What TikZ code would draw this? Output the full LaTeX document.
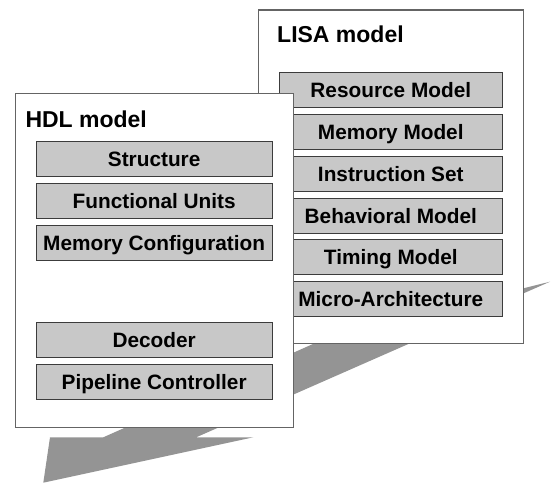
\documentclass[tikz,border=0pt]{standalone}
\usepackage{fontspec}
\setmainfont{Liberation Sans}
\usetikzlibrary{positioning}
\definecolor{arrowgray}{RGB}{148,148,148}
\definecolor{partgray}{RGB}{200,200,200}
\definecolor{partline}{RGB}{60,60,60}
\definecolor{modelline}{RGB}{100,100,100}

\begin{document}
\begin{tikzpicture}[x=1pt,y=-1pt,
    model/.style={draw=modelline, line width=1.3pt, fill=white, inner sep=0pt},
    modeltitle/.style={anchor=base west, inner sep=0pt, font=\fontsize{23}{26}\selectfont\bfseries},
    part/.style={draw=partline, line width=1pt, fill=partgray, inner sep=0pt, outer sep=0pt,
        minimum height=35pt, text height=15pt, text depth=0pt,
        font=\fontsize{20.8}{24}\selectfont\bfseries}]
    \useasboundingbox (0,0) rectangle (557,484);

    % Flow arrow behind both models
    \fill[arrowgray] (43.3,482.7) -- (50,437.3) -- (103.3,437.3) -- (331.8,335.6)
        -- (550,281.7) -- (196.2,437.3) -- (253.3,437.3) -- cycle;

    % LISA model
    \node[model, minimum width=265pt, minimum height=333.3pt] (lisa) at (390.8,176.65) {};
    \node[modeltitle] (lisatitle) at (277,42.3) {LISA model};
    \node[part, minimum width=223pt] (resource) at (390.8,89.8) {Resource Model};
    \node[part, minimum width=223pt, below=6.9pt of resource] (memory) {Memory Model};
    \node[part, minimum width=223pt, below=6.9pt of memory] (iset) {Instruction Set};
    \node[part, minimum width=223pt, below=6.9pt of iset] (behavior) {Behavioral Model};
    \node[part, minimum width=223pt, below=6.9pt of behavior] (timing) {Timing Model};
    \node[part, minimum width=223pt, below=6.9pt of timing] (micro) {Micro-Architecture};

    % HDL model
    \node[model, minimum width=278pt, minimum height=334pt] (hdl) at (154.3,260.3) {};
    \node[modeltitle] (hdltitle) at (25.3,127.7) {HDL model};
    \node[part, minimum width=236.3pt] (structure) at (154.15,159.2) {Structure};
    \node[part, minimum width=236.3pt, below=7pt of structure] (units) {Functional Units};
    \node[part, minimum width=236.3pt, below=7pt of units] (memconf) {Memory Configuration};
    \node[part, minimum width=236.3pt] (decoder) at (154.15,340.2) {Decoder};
    \node[part, minimum width=236.3pt, below=7pt of decoder] (pipeline) {Pipeline Controller};
\end{tikzpicture}
\end{document}
